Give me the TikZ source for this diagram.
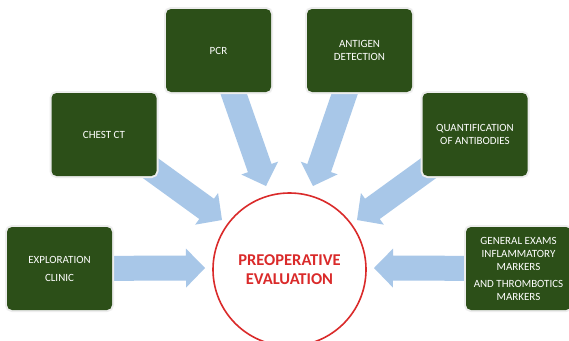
\documentclass[tikz,border=0pt]{standalone}
\usepackage{fontspec}
\setmainfont{Carlito}
\usetikzlibrary{calc}

\definecolor{boxgreen}{RGB}{44,79,24}
\definecolor{arrowblue}{RGB}{168,199,232}
\definecolor{evalred}{RGB}{218,42,42}

\tikzset{
  exambox/.style={rectangle, rounded corners=5pt, fill=boxgreen,
    preaction={draw=black!7, line width=4pt},
    minimum width=105pt, minimum height=83pt, inner sep=0pt,
    align=center, text=white, font=\fontsize{11}{13}\selectfont},
  evalnode/.style={circle, draw=evalred, line width=1.6pt,
    minimum size=153pt, inner sep=0pt, align=center, text=evalred,
    font=\fontsize{16.5}{19.5}\selectfont\bfseries},
  fatarrow/.style={fill=arrowblue}
}

% Broad block arrow from the centre of a node to a named tip coordinate
\newcommand\blockarrow[3]{%
  \coordinate (#1-base) at ($(#3)!19pt!(#2)$);
  \fill[fatarrow] (#3)
    -- ($(#1-base)!19.5pt!90:(#3)$)
    -- ($(#1-base)!12.5pt!90:(#3)$)
    -- ($(#2)!12.5pt!90:(#3)$)
    -- ($(#2)!12.5pt!-90:(#3)$)
    -- ($(#1-base)!12.5pt!-90:(#3)$)
    -- ($(#1-base)!19.5pt!-90:(#3)$)
    -- cycle;
}

\begin{document}
\begin{tikzpicture}[x=1pt, y=-1pt]
  \useasboundingbox[fill=white] (0,0) rectangle (569,340);

  % node centres and arrow tips
  \coordinate (c-pcr) at (218.5,50.5);
  \coordinate (c-ag)  at (359.5,50.5);
  \coordinate (c-ct)  at (104,134.5);
  \coordinate (c-ab)  at (475,134.5);
  \coordinate (c-ex)  at (59.5,268.5);
  \coordinate (c-gen) at (518.5,268.5);

  \coordinate (t-pcr) at (266,186);
  \coordinate (t-ag)  at (313,186);
  \coordinate (t-ct)  at (222,220);
  \coordinate (t-ab)  at (357,220);
  \coordinate (t-ex)  at (205,268);
  \coordinate (t-gen) at (374,268);

  % arrows, drawn below the boxes
  \blockarrow{apcr}{c-pcr}{t-pcr}
  \blockarrow{aag}{c-ag}{t-ag}
  \blockarrow{act}{c-ct}{t-ct}
  \blockarrow{aab}{c-ab}{t-ab}
  \blockarrow{aex}{c-ex}{t-ex}
  \blockarrow{agen}{c-gen}{t-gen}

  % examination boxes
  \node[exambox] (pcr) at (c-pcr) {PCR};
  \node[exambox] (ag)  at (c-ag)  {ANTIGEN\\DETECTION};
  \node[exambox] (ct)  at (c-ct)  {CHEST CT};
  \node[exambox] (ab)  at (c-ab)  {QUANTIFICATION\\OF ANTIBODIES};
  \node[exambox] (ex)  at (c-ex)  {EXPLORATION\\[5pt]CLINIC};
  \node[exambox] (gen) at (c-gen) {GENERAL EXAMS\\INFLAMMATORY\\MARKERS\\[4pt]AND THROMBOTICS\\MARKERS};

  % central evaluation
  \node[evalnode] (eval) at (289.5,269.5) {PREOPERATIVE\\EVALUATION};
\end{tikzpicture}
\end{document}
